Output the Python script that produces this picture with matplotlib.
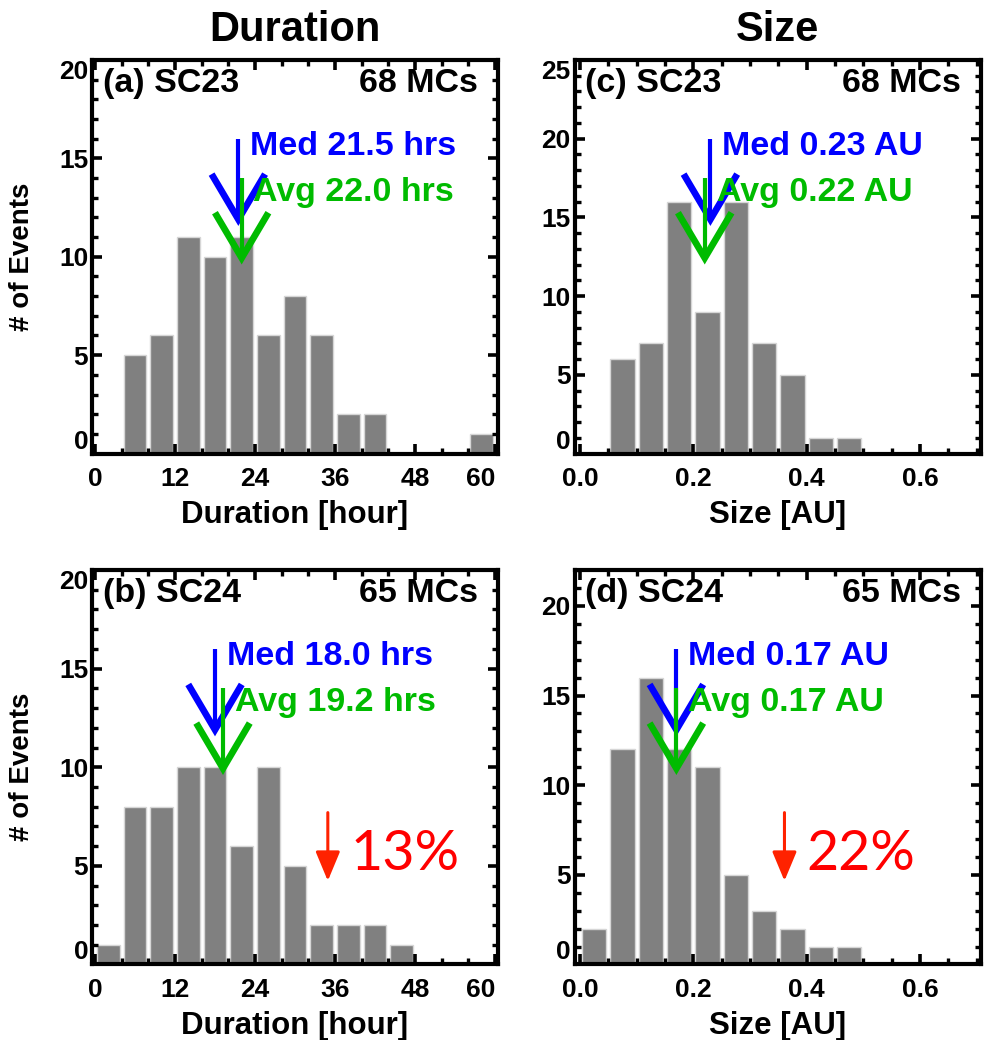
import numpy as np
import matplotlib
matplotlib.use('Agg')
import matplotlib.pyplot as plt
from matplotlib.ticker import MultipleLocator, FormatStrFormatter

plt.rcParams['font.family'] = ['Liberation Sans', 'DejaVu Sans']
plt.rcParams['font.weight'] = 'bold'
plt.rcParams['axes.labelweight'] = 'bold'

# histogram bins
dur_edges = np.arange(0, 61, 4)
size_edges = np.round(np.arange(0, 0.701, 0.05), 2)

# counts per bin
sc23_dur = [0, 5, 6, 11, 10, 11, 6, 8, 6, 2, 2, 0, 0, 0, 1]
sc24_dur = [1, 8, 8, 10, 10, 6, 10, 5, 2, 2, 2, 1, 0, 0, 0]
sc23_size = [0, 6, 7, 16, 9, 16, 7, 5, 1, 1, 0, 0, 0, 0]
sc24_size = [2, 12, 16, 12, 11, 5, 3, 2, 1, 1, 0, 0, 0, 0]

# medians / averages  (SC23, SC24)
dur_med = [21.5, 18.0]
dur_avg = [22.0, 19.2]
size_med = [0.23, 0.17]
size_avg = [0.22, 0.17]

n_mcs = [68, 65]
cycles = ['SC23', 'SC24']
drops = ['13%', '22%']

GREEN = '#00bb00'
BAR = '#808080'


def draw_hist(ax, edges, counts, xlim, ymax, xticks, xmin_, tag, n, med, avg, fmt, unit, xlabel, ylabel):
    centers = (edges[:-1] + edges[1:]) / 2
    w = edges[1] - edges[0]
    counts = np.array(counts)
    keep = counts > 0
    ax.bar(centers[keep], counts[keep], width=0.86 * w, color=BAR,
           edgecolor='#d6d6d6', linewidth=1, zorder=1)

    ax.set_xlim(xlim)
    ax.set_ylim(0, ymax)
    ax.set_xticks(xticks)
    ax.xaxis.set_minor_locator(MultipleLocator(xmin_))
    ax.set_yticks(np.arange(0, ymax + 0.1, 5))
    ax.yaxis.set_minor_locator(MultipleLocator(1))
    ax.tick_params(which='both', direction='in', top=True, right=True, labelsize=19)
    ax.tick_params(which='major', length=7.5, width=2.6)
    ax.tick_params(which='minor', length=4, width=2.4)
    ax.tick_params(axis='x', pad=10)
    ax.tick_params(axis='y', pad=3)
    for s in ax.spines.values():
        s.set_linewidth(3)

    # IDL-like placement of the end labels
    yt = ax.yaxis.get_major_ticks()
    yt[0].label1.set_va('bottom')
    if ymax % 5 == 0:
        yt[-1].label1.set_va('top')
    xt = ax.xaxis.get_major_ticks()
    if abs(xticks[-1] - xlim[1]) < 0.05 * (xlim[1] - xlim[0]):
        xt[-1].label1.set_ha('right')

    ax.set_xlabel(xlabel, fontsize=22.5)
    ax.xaxis.set_label_coords(0.5, -0.155)
    ax.xaxis.label.set_va('center')
    if ylabel:
        ax.set_ylabel('# of Events', fontsize=20)
        ax.yaxis.set_label_coords(-0.174, 0.5)
        ax.yaxis.label.set_va('center')

    ax.text(0.026, 0.94, tag, transform=ax.transAxes, fontsize=24.5, va='center', ha='left')
    ax.text(0.952, 0.94, '%d MCs' % n, transform=ax.transAxes, fontsize=24.5, va='center', ha='right')

    trans = ax.get_xaxis_transform()
    dx = 0.066 * (xlim[1] - xlim[0])
    for val, top, tip, col in [(med, 0.80, 0.595, 'blue'), (avg, 0.70, 0.497, GREEN)]:
        ax.plot([val, val], [top, tip], transform=trans, color=col, lw=3,
                solid_capstyle='butt', zorder=5)
        ax.plot([val - dx, val, val + dx], [tip + 0.115, tip, tip + 0.115], transform=trans,
                color=col, lw=4.8, solid_joinstyle='miter', solid_capstyle='butt', zorder=5)
    ax.annotate(('Med ' + fmt + ' ' + unit) % med, xy=(med, 0.781), xycoords=trans,
                xytext=(8.5, 0), textcoords='offset points', va='center', ha='left',
                color='blue', fontsize=24.5, zorder=6)
    ax.annotate(('Avg ' + fmt + ' ' + unit) % avg, xy=(avg, 0.663), xycoords=trans,
                xytext=(8.5, 0), textcoords='offset points', va='center', ha='left',
                color=GREEN, fontsize=24.5, zorder=6)


fig = plt.figure(figsize=(9.86, 10.4), dpi=100)
ax_a = fig.add_axes([0.0938, 0.5639, 0.4108, 0.3784])
ax_c = fig.add_axes([0.5827, 0.5639, 0.4118, 0.3784])
ax_b = fig.add_axes([0.0938, 0.0726, 0.4108, 0.3793])
ax_d = fig.add_axes([0.5827, 0.0726, 0.4118, 0.3793])

dur_xlim = (-0.375, 60.375)
size_xlim = (-0.0097, 0.7067)
dur_ticks = [0, 12, 24, 36, 48, 60]
size_ticks = [0.0, 0.2, 0.4, 0.6]

draw_hist(ax_a, dur_edges, sc23_dur, dur_xlim, 20, dur_ticks, 4, '(a) ' + cycles[0], n_mcs[0],
          dur_med[0], dur_avg[0], '%.1f', 'hrs', 'Duration [hour]', True)
draw_hist(ax_b, dur_edges, sc24_dur, dur_xlim, 20, dur_ticks, 4, '(b) ' + cycles[1], n_mcs[1],
          dur_med[1], dur_avg[1], '%.1f', 'hrs', 'Duration [hour]', True)
draw_hist(ax_c, size_edges, sc23_size, size_xlim, 25, size_ticks, 0.05, '(c) ' + cycles[0], n_mcs[0],
          size_med[0], size_avg[0], '%.2f', 'AU', 'Size [AU]', False)
draw_hist(ax_d, size_edges, sc24_size, size_xlim, 22, size_ticks, 0.05, '(d) ' + cycles[1], n_mcs[1],
          size_med[1], size_avg[1], '%.2f', 'AU', 'Size [AU]', False)

for ax in (ax_c, ax_d):
    ax.xaxis.set_major_formatter(FormatStrFormatter('%.1f'))

# red decrease annotations
for ax, ax_x, txt_x, txt in [(ax_b, 0.581, 0.636, drops[0]), (ax_d, 0.517, 0.570, drops[1])]:
    ax.annotate('', xy=(ax_x, 0.212), xytext=(ax_x, 0.385), xycoords='axes fraction',
                arrowprops=dict(arrowstyle='-|>,head_length=0.6,head_width=0.25', color='#ff2200',
                                lw=2.2, mutation_scale=30, shrinkA=0, shrinkB=0))
    ax.text(txt_x, 0.28, txt, transform=ax.transAxes, color='red', fontsize=40,
            family=['Lato', 'DejaVu Sans'], weight='normal', va='center', ha='left')

fig.text(0.5 * (0.0938 + 0.0938 + 0.4108), 0.971, 'Duration', fontsize=30, ha='center', va='center')
fig.text(0.5 * (0.5827 + 0.5827 + 0.4118), 0.971, 'Size', fontsize=30, ha='center', va='center')

fig.savefig('out.png', dpi=100)
